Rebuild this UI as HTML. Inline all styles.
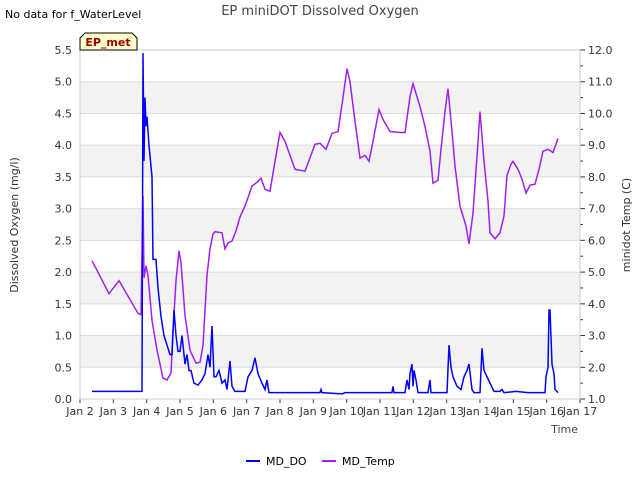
<!DOCTYPE html>
<html><head><meta charset="utf-8"><style>
body{margin:0;background:#fff;}
svg text{font-family:"DejaVu Sans","Liberation Sans",sans-serif;}
</style></head><body>
<svg id="c" width="640" height="480" xmlns="http://www.w3.org/2000/svg">
<g id="bands"></g><g id="grid"></g><g id="axes"></g><g id="series"></g>
<text x="5" y="18" font-size="11" fill="#000">No data for f_WaterLevel</text>
<text x="320" y="15" font-size="13" fill="#444" text-anchor="middle">EP miniDOT Dissolved Oxygen</text>
<text x="18" y="225" font-size="11" fill="#333" text-anchor="middle" transform="rotate(-90 18 225)">Dissolved Oxygen (mg/l)</text>
<text x="630" y="225" font-size="11" fill="#333" text-anchor="middle" transform="rotate(-90 630 225)">minidot Temp (C)</text>
<text x="578" y="433" font-size="11" fill="#444" text-anchor="end">Time</text>
<g>
<path d="M80,50 L80,38 L85,33 L132,33 L137,38 L137,50 Z" fill="#ffffcc" stroke="#000" stroke-width="1"/>
<text x="108" y="46" font-size="11" font-weight="bold" fill="#990000" text-anchor="middle">EP_met</text>
</g>
<g>
<line x1="246" y1="461" x2="260" y2="461" stroke="#0000ff" stroke-width="2"/>
<text x="266" y="465" font-size="11" fill="#000">MD_DO</text>
<line x1="322" y1="461" x2="336" y2="461" stroke="#a020f0" stroke-width="2"/>
<text x="342" y="465" font-size="11" fill="#000">MD_Temp</text>
</g>
</svg>
<script>
const doDays=[2.36,3.86,3.89,3.92,3.95,3.98,4.01,4.07,4.16,4.19,4.28,4.34,4.43,4.52,4.61,4.70,4.76,4.82,4.88,4.94,5.00,5.06,5.15,5.21,5.27,5.33,5.42,5.54,5.66,5.75,5.84,5.90,5.96,6.02,6.08,6.17,6.26,6.35,6.41,6.50,6.56,6.65,6.95,7.04,7.16,7.25,7.34,7.46,7.55,7.61,7.67,9.20,9.23,9.26,9.86,9.95,11.36,11.39,11.42,11.75,11.81,11.87,11.90,11.96,11.99,12.02,12.08,12.14,12.44,12.50,12.53,13.01,13.07,13.13,13.19,13.31,13.43,13.52,13.61,13.67,13.76,13.82,14.00,14.06,14.12,14.21,14.30,14.42,14.60,14.66,14.72,15.08,15.44,15.95,15.98,16.04,16.07,16.10,16.16,16.22,16.25,16.34];
const doValues=[0.12,0.12,5.45,3.75,4.75,4.3,4.45,4.0,3.5,2.2,2.2,1.75,1.3,1.0,0.85,0.7,0.7,1.4,1.0,0.75,0.75,1.0,0.55,0.7,0.45,0.45,0.25,0.22,0.3,0.4,0.7,0.5,1.15,0.35,0.35,0.45,0.25,0.3,0.15,0.6,0.2,0.12,0.12,0.35,0.45,0.65,0.4,0.25,0.15,0.3,0.1,0.1,0.15,0.1,0.08,0.1,0.1,0.2,0.1,0.1,0.3,0.15,0.4,0.55,0.2,0.45,0.3,0.1,0.1,0.3,0.1,0.1,0.85,0.5,0.35,0.2,0.15,0.35,0.45,0.55,0.15,0.1,0.1,0.8,0.45,0.35,0.25,0.12,0.12,0.15,0.1,0.12,0.1,0.1,0.35,0.5,1.4,1.4,0.55,0.4,0.15,0.1];
const tempDays=[2.36,2.87,3.17,3.74,3.83,3.89,3.92,3.98,4.04,4.16,4.31,4.49,4.61,4.73,4.79,4.88,4.97,5.03,5.15,5.30,5.48,5.60,5.69,5.81,5.90,5.99,6.05,6.26,6.35,6.44,6.56,6.68,6.80,6.95,7.16,7.31,7.43,7.55,7.70,7.85,8.00,8.15,8.45,8.75,9.05,9.20,9.38,9.56,9.74,9.89,10.01,10.10,10.25,10.40,10.55,10.67,10.79,10.97,11.09,11.30,11.60,11.75,11.90,11.99,12.20,12.35,12.50,12.59,12.74,12.83,12.95,13.04,13.16,13.25,13.40,13.58,13.67,13.79,13.91,14.00,14.12,14.24,14.30,14.45,14.60,14.72,14.81,14.93,14.99,15.14,15.26,15.38,15.50,15.65,15.77,15.89,16.04,16.19,16.34];
const tempValues=[5.36,4.32,4.73,3.70,3.66,7.40,4.82,5.20,4.89,3.48,2.54,1.66,1.60,1.82,3.16,4.73,5.67,5.29,3.63,2.54,2.13,2.16,2.69,4.89,5.73,6.20,6.27,6.24,5.73,5.92,5.98,6.30,6.74,7.08,7.71,7.83,7.96,7.61,7.55,8.49,9.40,9.12,8.24,8.18,9.03,9.06,8.87,9.37,9.43,10.50,11.41,11.00,9.75,8.59,8.68,8.49,9.12,10.12,9.81,9.43,9.40,9.40,10.53,10.94,10.22,9.59,8.81,7.80,7.90,8.87,10.06,10.78,9.43,8.34,7.08,6.45,5.89,6.86,8.65,10.06,8.49,7.24,6.24,6.05,6.24,6.77,8.05,8.40,8.49,8.24,7.93,7.49,7.74,7.77,8.24,8.81,8.87,8.77,9.21];
const leftTicks=["0.0","0.5","1.0","1.5","2.0","2.5","3.0","3.5","4.0","4.5","5.0","5.5"];
const rightTicks=["1.0","2.0","3.0","4.0","5.0","6.0","7.0","8.0","9.0","10.0","11.0","12.0"];
const xTickLabels=["Jan 2","Jan 3","Jan 4","Jan 5","Jan 6","Jan 7","Jan 8","Jan 9","Jan 10","Jan 11","Jan 12","Jan 13","Jan 14","Jan 15","Jan 16","Jan 17"];
const L=80,R=580,T=50,B=399,NS="http://www.w3.org/2000/svg";
const xs=d=>L+(d-2)/15*(R-L);
const yl=v=>B-v/5.5*(B-T);
const yr=t=>B-(t-1)/11*(B-T);
function mk(tag,attrs,parent,txt){const e=document.createElementNS(NS,tag);for(const k in attrs)e.setAttribute(k,attrs[k]);if(txt!==undefined)e.textContent=txt;document.getElementById(parent).appendChild(e);return e;}
for(let i=1;i<11;i+=2){
 const r=mk('rect',{x:L,y:yl((i+1)*0.5),width:R-L,height:yl(i*0.5)-yl((i+1)*0.5),fill:'#f2f2f2'},'bands');
 
 
}
leftTicks.forEach((s,i)=>{const v=parseFloat(s);const y=yl(v);
 const g=mk('line',{x1:L,x2:R,y1:y,y2:y,stroke:'#dcdcdc','stroke-width':1},'grid');
 
 
 const t=mk('text',{x:L-8,y:y+4,'font-size':11,fill:'#333','text-anchor':'end'},'axes',s);
 
 
});
rightTicks.forEach((s,i)=>{const v=parseFloat(s);const y=yr(v);
 mk('line',{x1:R,x2:R+5,y1:y,y2:y,stroke:'#333'},'axes');
 if(v<12)mk('line',{x1:R,x2:R+3,y1:yr(v+0.5),y2:yr(v+0.5),stroke:'#333'},'axes');
 const t=mk('text',{x:R+8,y:y+4,'font-size':11,fill:'#333'},'axes',s);
 
 
});
xTickLabels.forEach((s,i)=>{const x=xs(i+2);
 mk('line',{x1:x,x2:x,y1:B,y2:B+4,stroke:'#333'},'axes');
 const t=mk('text',{x:x,y:B+16,'font-size':11,fill:'#333','text-anchor':'middle'},'axes',s);
 
 
});
const fr=mk('rect',{x:L,y:T,width:R-L,height:B-T,fill:'none',stroke:'#cccccc'},'axes');


const tp=mk('polyline',{points:tempDays.map((d,i)=>xs(d)+','+yr(tempValues[i])).join(' '),fill:'none',stroke:'#a020f0','stroke-width':1.5},'series');


const dp=mk('polyline',{points:doDays.map((d,i)=>xs(d)+','+yl(doValues[i])).join(' '),fill:'none',stroke:'#0000ff','stroke-width':1.5},'series');


</script>
</body></html>
